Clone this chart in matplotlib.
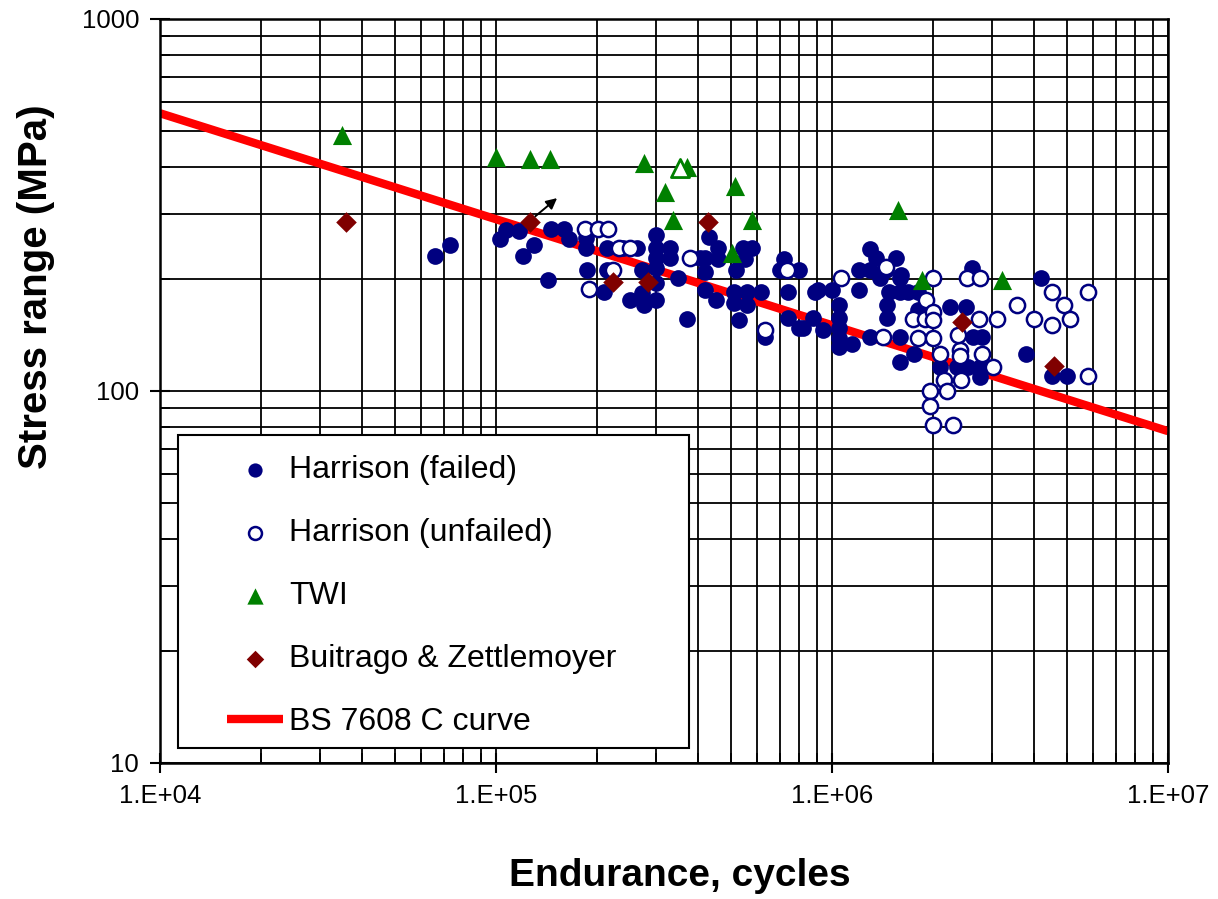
import math
import matplotlib
matplotlib.use("Agg")
import matplotlib.pyplot as plt
from matplotlib.ticker import FixedLocator, LogLocator, FuncFormatter, NullFormatter
from matplotlib.patches import Rectangle

plt.rcParams['font.family'] = ['Liberation Sans', 'DejaVu Sans']

# --- data (cycles, MPa) ---
failed_N = [6.6e4, 7.3e4,
            1.03e5, 1.07e5, 1.17e5, 1.2e5, 1.3e5, 1.43e5, 1.46e5, 1.59e5, 1.65e5,
            1.85e5, 1.85e5, 1.87e5, 2.1e5, 2.14e5, 2.14e5, 2.39e5, 2.63e5,
            2.5e5, 2.72e5, 2.76e5, 2.72e5,
            3.0e5, 3.0e5, 3.0e5, 3.0e5, 3.0e5, 3.0e5,
            3.3e5, 3.3e5, 3.48e5, 3.7e5,
            4.05e5, 4.19e5, 4.19e5, 4.3e5, 4.19e5, 4.52e5, 4.58e5, 4.58e5,
            5.18e5, 5.11e5, 5.11e5, 5.29e5, 5.43e5, 5.78e5, 5.51e5, 5.59e5, 5.59e5,
            6.15e5, 6.3e5,
            7.2e5, 7.0e5, 8.0e5, 7.4e5, 7.4e5, 8.0e5, 8.2e5, 8.9e5, 8.8e5, 9.4e5,
            9.1e5, 1.0e6,
            1.05e6, 1.05e6, 1.05e6, 1.05e6, 1.05e6, 1.15e6,
            1.2e6, 1.2e6, 1.3e6, 1.35e6, 1.3e6, 1.45e6, 1.55e6, 1.39e6, 1.59e6, 1.61e6,
            1.48e6, 1.59e6, 1.68e6, 1.8e6, 1.46e6, 1.46e6, 1.3e6, 1.59e6,
            1.59e6, 1.76e6, 1.8e6,
            2.1e6, 2.24e6, 2.5e6, 2.36e6, 2.54e6, 2.76e6, 2.76e6, 2.63e6, 2.79e6, 2.61e6,
            3.78e6, 4.2e6, 4.52e6, 5.0e6]
failed_S = [231, 247,
            256, 271, 270, 231, 247, 199, 272, 272, 256,
            258, 242, 211, 185, 242, 211, 242, 242,
            176, 183, 170, 211,
            262, 242, 228, 214, 195, 176,
            242, 228, 201, 156,
            228, 228, 209, 260, 187, 176, 242, 226,
            211, 185, 172, 155, 242, 242, 226, 185, 170,
            185, 140,
            226, 211, 211, 185, 157, 148, 148, 185, 157, 146,
            187, 187,
            170, 157, 148, 139, 131, 134,
            211, 187, 241, 228, 211, 211, 228, 201, 201, 205,
            185, 185, 185, 185, 170, 157, 140, 140,
            120, 126, 165,
            116, 168, 168, 116, 116, 116, 109, 140, 140, 214,
            126, 201, 110, 110]

unfailed_N = [1.84e5, 2.01e5, 2.15e5, 1.89e5, 2.32e5, 2.5e5, 2.23e5, 3.78e5, 6.3e5, 7.35e5,
              1.06e6, 1.45e6, 1.42e6, 1.9e6, 1.74e6, 1.89e6, 2.0e6, 2.0e6, 1.8e6, 2.0e6,
              2.1e6, 2.15e6, 2.42e6, 1.96e6, 2.2e6, 1.96e6, 2.0e6, 2.29e6, 2.4e6, 2.4e6, 2.37e6,
              2.74e6, 3.1e6, 2.79e6, 2.52e6, 2.76e6, 2.0e6, 3.02e6, 3.55e6, 4.0e6, 4.52e6,
              4.52e6, 4.9e6, 5.1e6, 5.78e6, 5.78e6]
unfailed_S = [272, 272, 272, 188, 242, 242, 211, 228, 146, 211,
              201, 215, 140, 176, 156, 156, 163, 155, 139, 139,
              126, 107, 107, 100, 100, 91, 81, 81, 129, 124, 141,
              156, 156, 126, 201, 201, 201, 116, 170, 156, 185,
              150, 170, 156, 185, 110]

twi_N = [3.48e4, 1.0e5, 1.26e5, 1.45e5, 2.76e5, 3.18e5, 3.7e5, 3.37e5, 5.14e5, 5.78e5, 5.04e5, 1.57e6, 1.85e6, 3.21e6]
twi_S = [488, 425, 420, 420, 410, 343, 400, 288, 356, 288, 235, 307, 199, 199]
twi_open_N = [3.53e5]
twi_open_S = [398]

bz_N = [3.58e4, 1.26e5, 2.23e5, 2.83e5, 4.27e5, 2.44e6, 4.58e6]
bz_S = [285, 285, 196, 196, 285, 153, 117]

curve_N = [1e4, 1e7]
curve_S = [558, 78]

arrow_from = (1.31e5, 295)
arrow_to = (1.52e5, 330)

navy = '#000080'
green = '#008000'
maroon = '#800000'

fig = plt.figure(figsize=(12.18, 8.99), dpi=100)
ax = fig.add_axes([160 / 1218, 1 - 763 / 899, 1008 / 1218, 744 / 899])
ax.set_xscale('log')
ax.set_yscale('log')
ax.set_xlim(1e4, 1e7)
ax.set_ylim(10, 1000)

# grid (major + minor)
ax.grid(True, which='both', color='black', linewidth=1.3, zorder=0)
ax.set_axisbelow(True)

ax.plot(curve_N, curve_S, color='red', linewidth=6, solid_capstyle='butt',
        zorder=2, label='BS 7608 C curve')
ax.scatter(failed_N, failed_S, s=145, marker='o', color=navy, linewidths=0, zorder=3,
           label='Harrison (failed)')
ax.scatter(unfailed_N, unfailed_S, s=120, marker='o', facecolor='white', edgecolor=navy,
           linewidths=1.8, zorder=4, label='Harrison (unfailed)')
ax.scatter(twi_N, twi_S, s=190, marker='^', color=green, linewidths=0, zorder=5, label='TWI')
ax.scatter(twi_open_N, twi_open_S, s=170, marker='^', facecolor='white', edgecolor=green,
           linewidths=2, zorder=5)
ax.scatter(bz_N, bz_S, s=110, marker='D', color=maroon, linewidths=0, zorder=6,
           label='Buitrago & Zettlemoyer')
ax.annotate('', xy=arrow_to, xytext=arrow_from,
            arrowprops=dict(arrowstyle='-|>', color='black', lw=1.4, mutation_scale=16,
                            shrinkA=0, shrinkB=0), zorder=7)

# ticks
ax.xaxis.set_major_locator(FixedLocator([1e4, 1e5, 1e6, 1e7]))
ax.xaxis.set_major_formatter(FuncFormatter(lambda v, p: '1.E+%02d' % round(math.log10(v))))
ax.xaxis.set_minor_locator(LogLocator(base=10, subs=range(2, 10)))
ax.xaxis.set_minor_formatter(NullFormatter())
ax.yaxis.set_major_locator(FixedLocator([10, 100, 1000]))
ax.yaxis.set_major_formatter(FuncFormatter(lambda v, p: '%d' % v))
ax.yaxis.set_minor_locator(LogLocator(base=10, subs=range(2, 10)))
ax.yaxis.set_minor_formatter(NullFormatter())
ax.tick_params(which='major', direction='inout', length=14, width=1.5, labelsize=18.5,
               colors='black', pad=8)
ax.tick_params(which='minor', direction='in', length=7, width=1.2)
for sp in ax.spines.values():
    sp.set_linewidth(1.8)

ax.set_xlabel('Endurance, cycles', fontsize=28, fontweight='bold')
ax.xaxis.set_label_coords((680 - 160) / 1008, (763 - 876) / 744)
ax.xaxis.label.set_verticalalignment('center')
ax.set_ylabel('Stress range (MPa)', fontsize=29, fontweight='bold')
ax.yaxis.set_label_coords((36 - 160) / 1008, (763 - 287) / 744)
ax.yaxis.label.set_verticalalignment('center')

# legend frame drawn by hand, legend itself without frame
frame = Rectangle(((178 - 160) / 1008, (763 - 748) / 744), (689 - 178) / 1008, (748 - 435) / 744,
                  transform=ax.transAxes, facecolor='white', edgecolor='black',
                  linewidth=1.5, zorder=8)
ax.add_patch(frame)
handles, labels = ax.get_legend_handles_labels()
order = [1, 2, 3, 4, 0]
leg = ax.legend([handles[i] for i in order], [labels[i] for i in order],
                loc='center left', bbox_to_anchor=((227 - 160) / 1008, (763 - 596) / 744),
                frameon=False, fontsize=23, borderpad=0, borderaxespad=0,
                handlelength=1.75, handletextpad=0.2, labelspacing=1.03,
                markerscale=0.85)
leg.set_zorder(9)

fig.savefig('out.png', dpi=100)
